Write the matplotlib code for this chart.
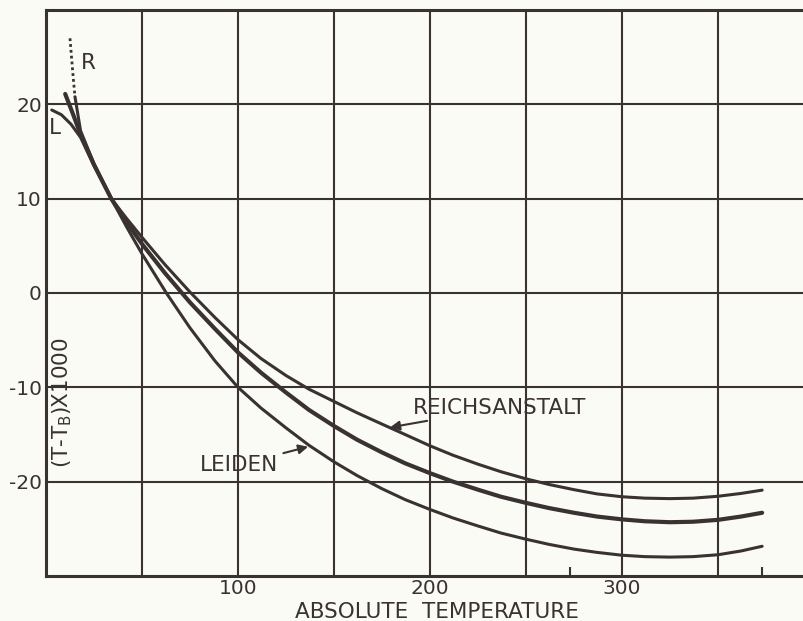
import matplotlib.pyplot as plt

# Reichsanstalt scale: dotted extrapolation at the cold end, then the measured curve
reich_dot_t = [12.5, 13.3, 14.2, 15.1]
reich_dot_d = [27.0, 25.0, 22.8, 20.8]
reich_t = [15.1, 18, 25, 34, 42, 50, 62, 75, 88, 100, 112, 125, 137, 150,
           162, 175, 187, 200, 212, 225, 237, 250, 262, 275, 287, 300, 312,
           325, 337, 350, 362, 373]
reich_d = [20.8, 17.2, 13.7, 10.0, 7.9, 5.9, 3.0, 0.1, -2.6, -4.95, -6.95,
           -8.75, -10.2, -11.5, -12.7, -13.9, -15.0, -16.2, -17.2, -18.15,
           -18.95, -19.7, -20.3, -20.85, -21.3, -21.6, -21.75, -21.8, -21.75,
           -21.55, -21.25, -20.9]

# heavy middle curve
mid_t = [10, 14, 18, 25, 34, 42, 50, 62, 75, 88, 100, 112, 125, 137, 150,
         162, 175, 187, 200, 212, 225, 237, 250, 262, 275, 287, 300, 312, 325,
         337, 350, 362, 373]
mid_d = [21.1, 19.0, 16.8, 13.6, 10.0, 7.5, 5.2, 2.1, -1.0, -3.8, -6.3,
         -8.45, -10.55, -12.4, -14.1, -15.55, -16.9, -18.05, -19.1, -20.0,
         -20.85, -21.6, -22.25, -22.8, -23.3, -23.7, -24.0, -24.2, -24.3,
         -24.25, -24.05, -23.7, -23.3]

# Leiden scale
leiden_t = [3, 8, 13, 18, 25, 34, 42, 50, 63, 75, 88, 100, 112, 125, 137, 150,
            162, 175, 187, 200, 212, 225, 237, 250, 262, 275, 287, 300, 312,
            325, 337, 350, 362, 373]
leiden_d = [19.4, 18.9, 17.9, 16.5, 13.5, 10.0, 7.0, 4.15, -0.1, -3.7, -7.2,
            -10.0, -12.2, -14.3, -16.15, -17.9, -19.35, -20.75, -21.9, -22.95,
            -23.85, -24.7, -25.45, -26.1, -26.65, -27.15, -27.5, -27.8,
            -27.95, -28.0, -27.95, -27.75, -27.35, -26.85]

x_grid = [0, 50, 100, 150, 200, 250, 300, 350]
x_labels = ['', '', '100', '', '200', '', '300', '']
y_grid = [-20, -10, 0, 10, 20]
y_labels = ['-20', '-10', '0', '10', '20']
fixed_points = [273, 373]  # ice and steam points

ink = '#3a3232'
paper = '#fbfbf5'
lab = 15.5

fig = plt.figure(figsize=(8.04, 6.21), dpi=100, facecolor=paper)
ax = fig.add_axes([0.0572, 0.0725, 0.9428, 0.9114], facecolor=paper)

ax.set_xlim(0, 394.8)
ax.set_ylim(-30, 30)

ax.set_xticks(x_grid)
ax.set_xticklabels(x_labels)
ax.set_yticks(y_grid)
ax.set_yticklabels(y_labels)
ax.set_xticks(fixed_points, minor=True)
ax.tick_params(axis='both', which='major', length=0, labelsize=14.5,
               labelcolor=ink)
ax.tick_params(axis='x', which='major', pad=2.5)
ax.tick_params(axis='y', which='major', pad=3)
ax.tick_params(axis='x', which='minor', direction='in', length=6.5, width=1.5,
               color=ink)
ax.grid(True, which='major', color=ink, linewidth=1.5)
ax.set_axisbelow(True)

for side in ['left', 'bottom', 'top']:
    ax.spines[side].set_color(ink)
    ax.spines[side].set_linewidth(2.2)
ax.spines['right'].set_visible(False)

ax.plot(reich_dot_t, reich_dot_d, color=ink, linewidth=2.0,
        linestyle=(0, (1, 1.1)))
ax.plot(reich_t, reich_d, color=ink, linewidth=2.2, solid_capstyle='round',
        solid_joinstyle='round')
ax.plot(mid_t, mid_d, color=ink, linewidth=3.0, solid_capstyle='round',
        solid_joinstyle='round')
ax.plot(leiden_t, leiden_d, color=ink, linewidth=2.2, solid_capstyle='round',
        solid_joinstyle='round')

ax.text(21.9, 24.4, 'R', color=ink, fontsize=lab, ha='center', va='center')
ax.text(4.7, 17.5, 'L', color=ink, fontsize=lab, ha='center', va='center')

ax.annotate('REICHSANSTALT', xy=(179.2, -14.25), xytext=(191, -12.2),
            color=ink, fontsize=lab, ha='left', va='center',
            arrowprops=dict(arrowstyle='-|>', color=ink, lw=1.5,
                            mutation_scale=14, shrinkA=0, shrinkB=0))
ax.annotate('LEIDEN', xy=(136.5, -16.3), xytext=(120.8, -18.2),
            color=ink, fontsize=lab, ha='right', va='center',
            arrowprops=dict(arrowstyle='-|>', color=ink, lw=1.5,
                            mutation_scale=14, shrinkA=2, shrinkB=0))

ax.text(8.3, -11.65, '(T-T$_\\mathrm{B}$)X1000', color=ink, fontsize=lab,
        rotation=90, ha='center', va='center')
ax.text(203.6, -33.8, 'ABSOLUTE  TEMPERATURE', color=ink, fontsize=lab,
        ha='center', va='center', clip_on=False)

fig.savefig('out.png', dpi=100, facecolor=paper)
